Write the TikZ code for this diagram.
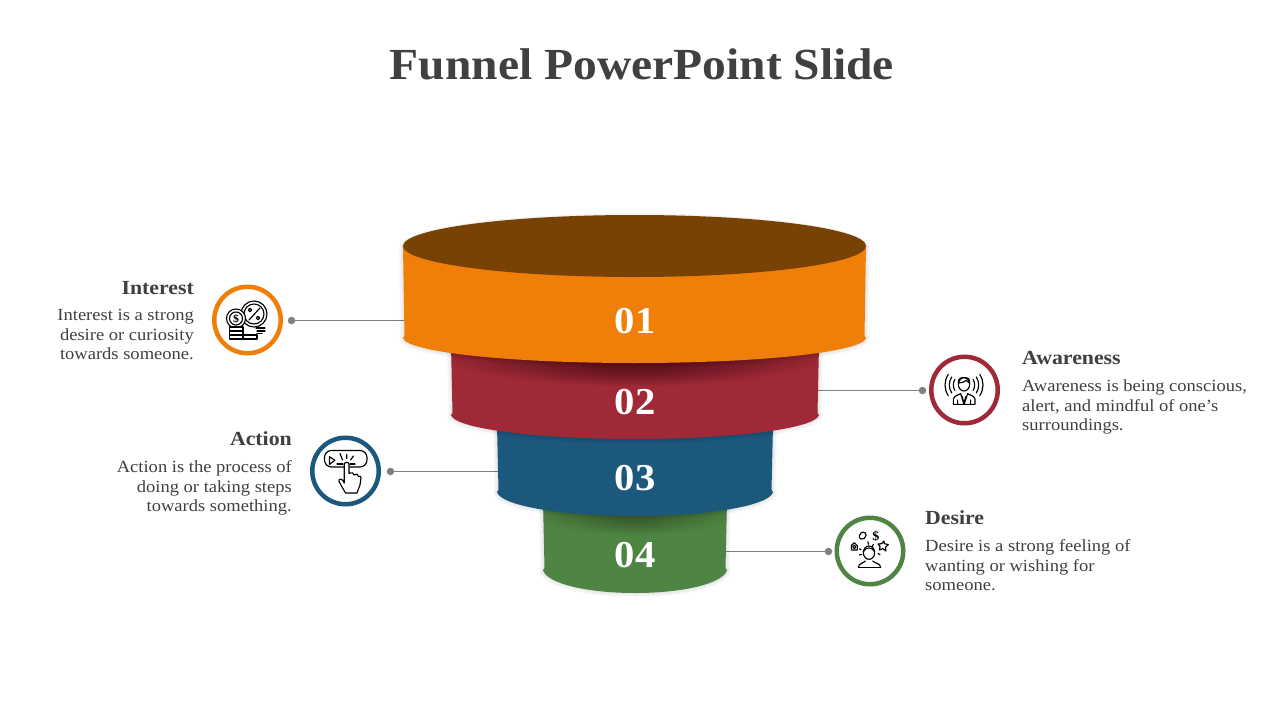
\documentclass[tikz,border=0pt]{standalone}
\usepackage{fontspec}
\setmainfont[FakeStretch=1.09]{Liberation Serif}
\newfontfamily\titlefont[FakeStretch=1.07]{Liberation Serif}
\usetikzlibrary{calc}
\definecolor{cOrange}{HTML}{F07F09}
\definecolor{cBrown}{HTML}{784205}
\definecolor{cRed}{HTML}{9F2936}
\definecolor{cBlue}{HTML}{1B587C}
\definecolor{cGreen}{HTML}{4E8542}
\definecolor{cText}{HTML}{404040}
\definecolor{cLine}{HTML}{7F7F7F}
% body outline: left x, right x, top y, side-bottom y, bottom y
\newcommand{\funnelpath}[5]{
  (#1,#3) -- ({#1+1.5},{#4-2}) -- (#1,#4)
  .. controls ({#1+3},{#4+0.55*(#5-#4)}) and ({(#1+#2)/2-0.55*(#2-#1)/2},#5) .. ({(#1+#2)/2},#5)
  .. controls ({(#1+#2)/2+0.55*(#2-#1)/2},#5) and ({#2-3},{#4+0.55*(#5-#4)}) .. (#2,#4)
  -- ({#2-1.5},{#4-2}) -- (#2,#3) -- cycle
}
\newcommand{\softshadow}[5]{
  \foreach \w in {1.5,3,...,9}{
    \draw[black,opacity=.016,line width=\w pt,line join=round] \funnelpath{#1}{#2}{#3}{#4}{#5};
  }
}
\tikzset{
  x=1pt,y=-1pt,
  ring/.style={circle,draw=#1,line width=4.5pt,fill=white,minimum size=66.5pt,inner sep=0pt},
  leaddot/.style={circle,fill=cLine,minimum size=7.5pt,inner sep=0pt},
  leadline/.style={draw=cLine,line width=.9pt},
  numlabel/.style={text=white,font=\titlefont\bfseries\fontsize{38}{38}\selectfont,inner sep=0pt},
  headright/.style={anchor=base east,inner sep=0pt,text=cText,font=\bfseries\fontsize{20}{20}\selectfont},
  headleft/.style={anchor=base west,inner sep=0pt,text=cText,font=\bfseries\fontsize{20}{20}\selectfont},
  bodyright/.style={anchor=north east,align=right,inner sep=0pt,text=cText,font=\fontsize{17}{19.5}\selectfont},
  bodyleft/.style={anchor=north west,align=left,inner sep=0pt,text=cText,font=\fontsize{17}{19.5}\selectfont},
  icon/.style={line width=1.15pt,line cap=round,line join=round},
}
\begin{document}
\begin{tikzpicture}
\useasboundingbox (0,0) rectangle (1280,720);
\fill[white] (0,0) rectangle (1280,720);

\node[anchor=base,inner sep=0pt,text=cText,font=\titlefont\bfseries\fontsize{44.4}{44.4}\selectfont] (title) at (642,79) {Funnel PowerPoint Slide};

% leader lines end at the funnel segments
\coordinate (seg1) at (410,320.5);
\coordinate (seg2) at (815,390.5);
\coordinate (seg3) at (502,471.5);
\coordinate (seg4) at (722,551.5);
\node[leaddot] (dot1) at (291.5,320.5) {};
\node[leaddot] (dot2) at (922.5,390.5) {};
\node[leaddot] (dot3) at (390.5,471.5) {};
\node[leaddot] (dot4) at (828.5,551.5) {};
\draw[leadline] (dot1.center) -- (seg1);
\draw[leadline] (dot2.center) -- (seg2);
\draw[leadline] (dot3.center) -- (seg3);
\draw[leadline] (dot4.center) -- (seg4);

% funnel segments, bottom to top
\softshadow{543}{727}{500}{570}{593}
\fill[cGreen] \funnelpath{543}{727}{500}{570}{593};
\begin{scope}
  \clip \funnelpath{543}{727}{500}{570}{593};
  \foreach \k in {1,...,18}{
    \fill[black,opacity=.012] (634,504) ellipse [x radius={122-\k*5},y radius={32-\k*0.7}];
  }
\end{scope}

\softshadow{497}{773}{425}{492}{516}
\fill[cBlue] \funnelpath{497}{773}{425}{492}{516};

\softshadow{451}{819}{345}{415}{439}
\fill[cRed] \funnelpath{451}{819}{345}{415}{439};
\begin{scope}
  \clip \funnelpath{451}{819}{345}{415}{439};
  \foreach \k in {1,...,24}{
    \fill[black,opacity=.014] (634,345) ellipse [x radius={215-\k*6},y radius={42-\k*0.7}];
  }
\end{scope}

\softshadow{403}{866}{246}{338}{363}
\fill[black,opacity=.05] (634.5,246) ellipse [x radius=233,y radius=32.5];
\fill[cOrange] \funnelpath{403}{866}{246}{338}{363};
\fill[cBrown] (634.5,246) ellipse [x radius=231.5,y radius=31];

\node[numlabel] (n1) at (635,321) {01};
\node[numlabel] (n2) at (635,402) {02};
\node[numlabel] (n3) at (635,478) {03};
\node[numlabel] (n4) at (635,555) {04};

% rings
\node[ring=cOrange] (r1) at (247.5,320) {};
\node[ring=cRed] (r2) at (964.5,390) {};
\node[ring=cBlue] (r3) at (345.5,471) {};
\node[ring=cGreen] (r4) at (870,551) {};

% texts
\node[headright] (h1) at (194,294) {Interest};
\node[bodyright] (b1) at (194,309.5) {Interest is a strong\\desire or curiosity\\towards someone.};
\node[headright] (h3) at (292,445) {Action};
\node[bodyright] (b3) at (292,460.5) {Action is the process of\\doing or taking steps\\towards something.};
\node[headleft] (h2) at (1022,364) {Awareness};
\node[bodyleft] (b2) at (1022,379.5) {Awareness is being conscious,\\alert, and mindful of one's\\surroundings.};
\node[headleft] (h4) at (925,524) {Desire};
\node[bodyleft] (b4) at (925,539.5) {Desire is a strong feeling of\\wanting or wishing for\\someone.};

% icon 1: money and percent
\begin{scope}[icon]
  \draw (254,314) circle (13);
  \draw (254,314) circle (10);
  \draw (249,320) -- (260,308);
  \draw (250,310) circle (1.7) (258,318) circle (1.7);
  \filldraw[fill=white] (236,318.5) circle (9.5);
  \draw (236,318.5) circle (6.5);
  \node[inner sep=0pt,text=black,font=\bfseries\fontsize{11}{11}\selectfont] (dollar1) at (236,318.5) {\$};
  \foreach \yy in {327,331,335}{\filldraw[fill=white] (229.5,\yy) rectangle (243,\yy+4);}
  \filldraw[fill=white] (243,335) rectangle (257,339);
  \draw (256,328) -- (265,328) (257,331) -- (265,331) (257,333.5) -- (262,333.5);
\end{scope}

% icon 2: pressing a play button
\begin{scope}[icon]
  \draw[rounded corners=7pt] (324.5,450.5) rectangle (367,467);
  \draw (329.5,456.7) -- (329.5,464.3) -- (335,460.3) -- cycle;
  \draw (340,453.5) -- (342.5,460) (346.7,454.5) -- (346.7,458.5) (353.5,456) -- (350.5,460);
  \draw (337,464) -- (343,464) (350,464) -- (355,464);
  \filldraw[fill=white]
    (344.3,475) -- (344.3,464.5) .. controls (344.3,461.5) and (349,461.5) .. (349,464.5)
    -- (349,473.5) .. controls (352,472) and (354,473) .. (354,475)
    .. controls (357,473.5) and (358.5,474.5) .. (358.5,476.5)
    .. controls (360,475.5) and (361,476.5) .. (361,478)
    -- (360,485) -- (357,493) -- (345.5,493)
    -- (339,481.5) .. controls (338.5,478.5) and (341.5,478.5) .. (342.5,480) -- (344.3,483) -- cycle;
\end{scope}

% icon 3: person with signal waves
\begin{scope}[icon,shift={(915,345)},x=0.3333pt,y=-0.3333pt]
  \draw (147,118) ellipse [x radius=17,y radius=20];
  \draw (130,114) .. controls (128,100) and (140,96) .. (150,98) .. controls (162,98) and (166,106) .. (164,114) .. controls (158,112) and (156,108) .. (154,106) .. controls (148,112) and (140,113) .. (130,114) -- cycle;
  \draw (115,178) -- (115,162) .. controls (118,152) and (130,150) .. (137,146)
     -- (147,178) -- (158,146) .. controls (165,150) and (177,152) .. (180,162) -- (180,178) -- cycle;
  \draw (142,155) -- (147,178) -- (152,155) (128,165) -- (128,178) (167,165) -- (167,178);
  \foreach \rr/\aa in {32/32,44/33,57/34}{
    \draw (147,120) ++({180-\aa}:\rr) arc[start angle={180-\aa},end angle={180+\aa},radius=\rr];
    \draw (147,120) ++({-\aa}:\rr) arc[start angle={-\aa},end angle={\aa},radius=\rr];
  }
\end{scope}

% icon 4: person with desires
\begin{scope}[icon,shift={(820,505)},x=0.3333pt,y=-0.3333pt]
  \draw (147,143) ellipse [x radius=17,y radius=20];
  \draw (130,140) .. controls (138,126) and (155,124) .. (164,140);
  \draw (115,188) .. controls (115,175) and (130,175) .. (136,168) (158,168) .. controls (165,175) and (182,175) .. (182,188);
  \draw (115,188) -- (182,188);
  \draw (94,135) -- (94,122) -- (103,113) -- (112,122) -- (112,135) -- cycle;
  \draw (103,126) circle (5);
  \draw (118,92) .. controls (122,78) and (140,78) .. (138,92) .. controls (138,100) and (128,104) .. (123,102) .. controls (118,100) and (117,96) .. (118,92) -- cycle;
  \node[inner sep=0pt,text=black,font=\bfseries\fontsize{13}{13}\selectfont] (dollar4) at (168,95) {\$};
  \draw (192,108) -- (193,116) -- (205,119) -- (196,127) -- (198,138) -- (188,131) -- (178,135) -- (180,124) -- (174,117) -- (185,116) -- cycle;
  \draw (144,110) -- (145,118) (118,132) -- (123,134) (174,145) -- (180,149) (118,150) -- (125,148) (160,118) -- (157,125);
\end{scope}
\end{tikzpicture}
\end{document}
